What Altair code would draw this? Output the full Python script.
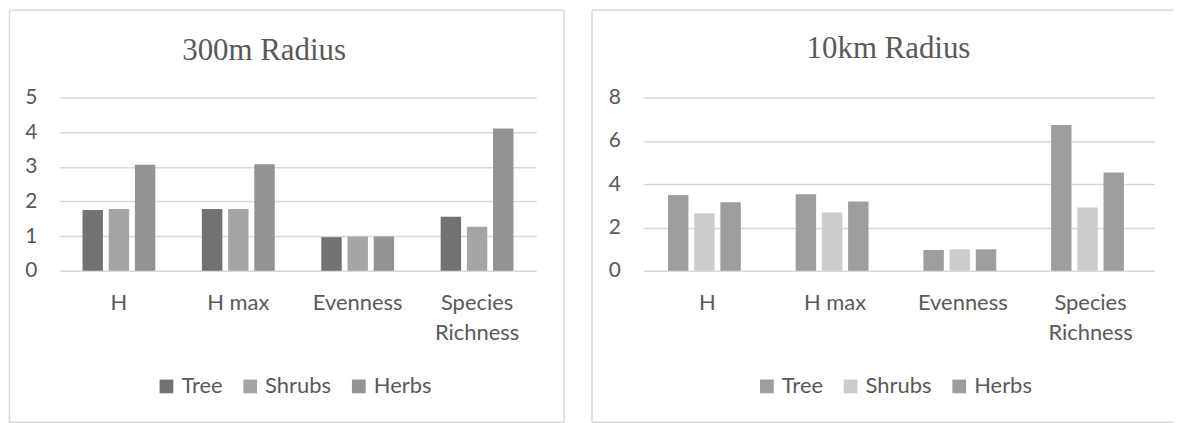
import altair as alt
import pandas as pd

categories = ["H", "H max", "Evenness", "Species Richness"]
series = ["Tree", "Shrubs", "Herbs"]

r300_tree = [1.75, 1.78, 0.97, 1.56]
r300_shrubs = [1.78, 1.78, 0.99, 1.27]
r300_herbs = [3.06, 3.07, 0.99, 4.10]

r10k_tree = [3.50, 3.53, 0.96, 6.73]
r10k_shrubs = [2.66, 2.69, 0.99, 2.92]
r10k_herbs = [3.16, 3.20, 0.99, 4.54]

title_300 = "300m Radius"
title_10k = "10km Radius"
ticks_300 = [0, 1, 2, 3, 4, 5]
ticks_10k = [0, 2, 4, 6, 8]

colors_300 = ["#727272", "#a5a5a5", "#939393"]
colors_10k = ["#9e9e9e", "#cccccc", "#9e9e9e"]

TEXT = "#595959"
GRID = "#d9d9d9"


def long_df(tree, shrubs, herbs):
    rows = []
    for s, vals in zip(series, [tree, shrubs, herbs]):
        for c, v in zip(categories, vals):
            rows.append({"Category": c, "Series": s, "Value": v})
    return pd.DataFrame(rows)


def bars(df, colors, width, ymax, ticks, legend_x, legend_y, pin, pout):
    return alt.Chart(df).mark_bar().encode(
        x=alt.X(
            "Category:N",
            sort=categories,
            scale=alt.Scale(paddingInner=pin, paddingOuter=pout),
            axis=alt.Axis(
                title=None, labelAngle=0, labelFont="Lato", labelFontSize=22,
                labelColor=TEXT, labelPadding=22, ticks=False, domain=False,
                labelLineHeight=30, labelBaseline="top", labelLimit=300,
                labelExpr="datum.label == 'Species Richness' ? ['Species', 'Richness'] : datum.label",
            ),
        ),
        xOffset=alt.XOffset("Series:N", sort=series,
                            scale=alt.Scale(paddingInner=0.22, paddingOuter=0)),
        y=alt.Y(
            "Value:Q",
            scale=alt.Scale(domain=[0, ymax], nice=False),
            axis=alt.Axis(
                title=None, values=ticks, format="d", grid=True, gridColor=GRID,
                gridWidth=1.5, domain=False, ticks=False, labelPadding=23,
                labelFont="Lato", labelFontSize=21, labelColor=TEXT,
            ),
        ),
        color=alt.Color(
            "Series:N", sort=series,
            scale=alt.Scale(domain=series, range=colors),
            legend=alt.Legend(
                title=None, orient="none", direction="horizontal",
                legendX=legend_x, legendY=legend_y, symbolType="square",
                symbolSize=190, symbolStrokeWidth=0, labelFont="Lato",
                labelFontSize=22, labelColor=TEXT, labelOffset=4,
                columnPadding=16,
            ),
        ),
    ).properties(width=width, height=174)


def title_mark(text, tx, ty):
    return alt.Chart(pd.DataFrame({"t": [text]})).mark_text(
        font="Liberation Serif", fontSize=31, color=TEXT,
        align="center", baseline="alphabetic",
    ).encode(text="t:N", x=alt.value(tx), y=alt.value(ty))


one = pd.DataFrame({"b": [0]})

# left panel
left_border = alt.Chart(one).mark_rect(
    fill="transparent", stroke=GRID, strokeWidth=1.5
).encode(x=alt.value(-50.5), x2=alt.value(506), y=alt.value(-87.5), y2=alt.value(326))

left = alt.layer(
    left_border,
    bars(long_df(r300_tree, r300_shrubs, r300_herbs), colors_300, 478, 5, ticks_300,
         96, 279, 0.39, 0.19),
    title_mark(title_300, 205, -38),
)

# right panel
rb_top = alt.Chart(one).mark_rule(stroke=GRID, strokeWidth=1.5).encode(
    x=alt.value(-51.5), x2=alt.value(532), y=alt.value(-87.5))
rb_left = alt.Chart(one).mark_rule(stroke=GRID, strokeWidth=1.5).encode(
    x=alt.value(-51.5), y=alt.value(-87.5), y2=alt.value(326))
rb_bottom = alt.Chart(one).mark_rule(stroke=GRID, strokeWidth=1.5).encode(
    x=alt.value(-51.5), x2=alt.value(532), y=alt.value(326))

right = alt.layer(
    rb_top, rb_left, rb_bottom,
    bars(long_df(r10k_tree, r10k_shrubs, r10k_herbs), colors_10k, 513, 8, ticks_10k,
         113, 279, 0.383, 0.193),
    title_mark(title_10k, 246, -40),
)

chart = alt.hconcat(left, right, spacing=24.5).resolve_scale(
    color="independent"
).configure_view(stroke="transparent").properties(padding=0)

chart.save("out.html", embed_options={"renderer": "svg", "actions": False})
